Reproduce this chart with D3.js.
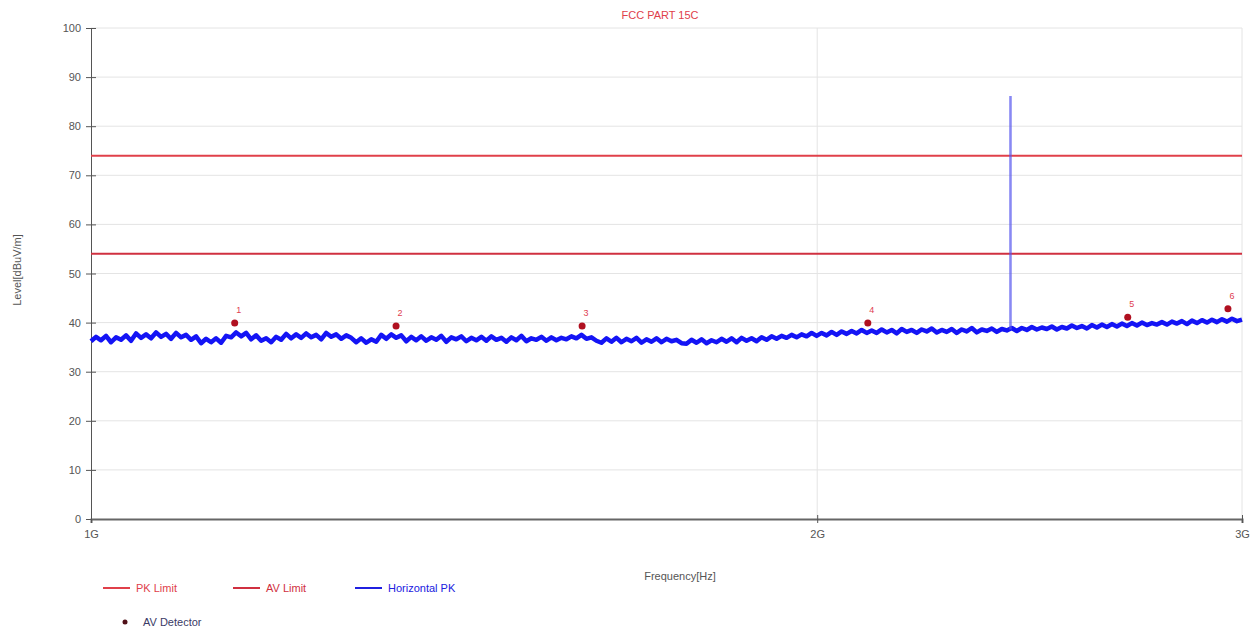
<!DOCTYPE html>
<html><head><meta charset="utf-8">
<script src="https://cdn.jsdelivr.net/npm/d3@7"></script>
<style>body{margin:0;background:#fff;}svg{display:block;font-family:"Liberation Sans",Arial,sans-serif;}</style>
</head><body><svg id="c" width="1259" height="636"></svg>
<script>
const title = "FCC PART 15C";
const yTicks = [0,10,20,30,40,50,60,70,80,90,100];
const xTicks = [1e9, 2e9, 3e9];
const xTickLabels = ["1G","2G","3G"];
const pkLimit = 74;
const avLimit = 54;
const traceStart = 1e9, traceStop = 3e9;
const traceLevels = [
36.2,37.1,36.4,37.3,36.0,37.0,36.5,37.4,36.3,
37.8,36.9,37.6,36.8,38.0,37.1,37.7,36.7,37.9,37.0,37.5,
36.5,37.2,
35.8,36.7,36.0,36.8,35.9,
37.3,
37.0,38.0,37.2,37.9,
36.6,37.4,36.3,
36.8,
36.0,37.1,36.5,
37.7,36.8,37.6,36.9,37.8,37.0,37.5,36.6,37.9,37.1,37.6,36.7,37.4,36.9,
36.0,36.8,35.9,36.6,36.1,
37.5,36.7,37.6,36.9,37.4,
36.2,37.1,36.4,37.2,36.3,37.0,36.5,37.3,36.1,37.0,36.6,37.2,36.2,36.9,36.4,37.1,36.3,37.2,36.5,36.9,36.1,37.0,36.4,37.3,36.2,36.8,36.5,37.1,36.3,37.0,36.4,36.9,
36.6,37.2,36.8,37.5,36.7,37.0,36.3,
35.9,36.8,36.1,36.9,36.0,36.7,36.2,36.9,35.9,36.6,36.1,36.8,36.0,36.7,36.2,36.5,35.8,
35.7,36.5,35.9,36.6,35.8,36.4,36.0,36.7,36.1,36.8,36.0,36.9,36.3,36.8,36.2,37.0,
36.5,37.2,36.7,37.3,36.9,37.5,37.0,37.6,37.2,37.9,37.3,
37.9,37.4,38.1,37.5,38.2,37.7,38.3,37.8,38.5,37.9,38.4,
37.9,38.6,38.0,38.5,37.8,38.7,38.1,38.5,37.9,38.6,38.2,38.8,38.0,38.5,38.1,38.7,37.9,38.6,38.2,38.9,38.0,38.6,38.3,38.8,38.1,38.7,38.4,
38.9,38.3,38.9,38.5,39.1,38.6,39.0,38.7,39.2,38.6,39.1,38.8,39.4,38.9,39.3,38.8,39.5,39.0,39.6,
39.1,39.7,39.2,39.8,39.3,39.9,39.4,40.0,39.5,39.9,39.6,40.1,39.6,40.2,39.8,40.3,39.7,40.4,39.9,40.5,40.0,40.6,40.1,40.7,40.2,40.8,40.3,40.6
];
const spikeFreq = 2.404e9;
const spikeLevel = 86;
const spikeBase = 38.6;
const markerIds = ["1","2","3","4","5","6"];
const markerFreqs = [1.147e9, 1.338e9, 1.598e9, 2.099e9, 2.690e9, 2.960e9];
const markerLevels = [39.9, 39.3, 39.3, 39.9, 41.1, 42.8];
const legendRow1 = ["PK Limit","AV Limit","Horizontal PK"];
const legendRow2 = ["AV Detector"];

const svg = d3.select("#c");
const L = 91, R = 1242, T = 28, B = 519;
const x = d3.scaleLog().domain([1e9, 3e9]).range([L, R]);
const y = d3.scaleLinear().domain([0, 100]).range([B, T]);

// grid
svg.append("g").selectAll("line").data(yTicks.filter(d=>d>0)).join("line")
  .attr("x1", L).attr("x2", R).attr("y1", d=>y(d)).attr("y2", d=>y(d))
  .attr("stroke", "#e4e4e4").attr("stroke-width", 1);
svg.append("g").selectAll("line").data(xTicks.slice(1)).join("line")
  .attr("x1", d=>x(d)).attr("x2", d=>x(d)).attr("y1", T).attr("y2", B)
  .attr("stroke", "#e4e4e4").attr("stroke-width", 1);

// axes
const yAxis = d3.axisLeft(y).tickValues(yTicks).tickSize(5).tickPadding(5);
const gy = svg.append("g").attr("transform", `translate(${L},0)`).call(yAxis);
gy.select(".domain").attr("stroke", "#555");
gy.selectAll(".tick line").attr("stroke", "#555").attr("x2", 5).attr("x1", -5);
gy.selectAll("text").attr("fill", "#555").attr("font-size", 11);

const xAxis = d3.axisBottom(x).tickValues(xTicks).tickFormat((d,i)=>xTickLabels[i]).tickSize(4).tickPadding(7);
const gx = svg.append("g").attr("transform", `translate(0,${B})`).call(xAxis);
gx.select(".domain").attr("stroke", "#666").attr("stroke-width", 2);
gx.selectAll(".tick line").attr("stroke", "#555").attr("y1", -4);
gx.selectAll("text").attr("fill", "#555").attr("font-size", 11);

// limits
svg.append("line").attr("x1", L).attr("x2", R).attr("y1", y(pkLimit)).attr("y2", y(pkLimit))
  .attr("stroke", "#e0404a").attr("stroke-width", 2);
svg.append("line").attr("x1", L).attr("x2", R).attr("y1", y(avLimit)).attr("y2", y(avLimit))
  .attr("stroke", "#d03040").attr("stroke-width", 2);

// trace
const n = traceLevels.length;
const lr = Math.log(traceStop/traceStart);
const traceData = traceLevels.map((v,i)=>[traceStart*Math.exp(lr*i/(n-1)), v]);
const line = d3.line().x(d=>x(d[0])).y(d=>y(d[1]));
svg.append("path").datum(traceData).attr("d", line)
  .attr("fill", "none").attr("stroke", "#1414f5").attr("stroke-width", 4.5).attr("stroke-linejoin","round");
svg.append("path").datum([[spikeFreq, spikeBase],[spikeFreq, spikeLevel],[spikeFreq*1.001, spikeLevel],[spikeFreq*1.001, spikeBase]]).attr("d", line)
  .attr("fill", "none").attr("stroke", "#5555ee").attr("stroke-opacity", 0.7).attr("stroke-width", 1.5);

// markers
const mg = svg.append("g");
mg.selectAll("circle").data(markerFreqs).join("circle")
  .attr("cx", d=>x(d)).attr("cy", (d,i)=>y(markerLevels[i])).attr("r", 3.5).attr("fill", "#b01020");
mg.selectAll("text").data(markerFreqs).join("text")
  .attr("x", d=>x(d)+4).attr("y", (d,i)=>y(markerLevels[i])-10)
  .attr("font-size", 9).attr("fill", "#e04050").attr("text-anchor","middle").text((d,i)=>markerIds[i]);

// title & labels
svg.append("text").attr("x", 660).attr("y", 19).attr("text-anchor","middle").attr("font-size", 11)
  .attr("fill", "#e0404a").text(title);
svg.append("text").attr("transform","translate(21,270) rotate(-90)").attr("text-anchor","middle")
  .attr("font-size", 11).attr("fill", "#555").text("Level[dBuV/m]");
svg.append("text").attr("x", 680).attr("y", 580).attr("text-anchor","middle")
  .attr("font-size", 11).attr("fill", "#555").text("Frequency[Hz]");

// legend
const legColors = ["#e0404a","#d03040","#2020e0"];
const legX = [103, 233, 355];
const lg = svg.append("g");
legendRow1.forEach((t,i)=>{
  lg.append("line").attr("x1", legX[i]).attr("x2", legX[i]+27).attr("y1", 588).attr("y2", 588)
    .attr("stroke", legColors[i]).attr("stroke-width", 2);
  lg.append("text").attr("x", legX[i]+33).attr("y", 592).attr("font-size", 11).attr("fill", legColors[i]).text(t);
});
lg.append("circle").attr("cx", 125).attr("cy", 622).attr("r", 2.5).attr("fill", "#501018");
lg.append("text").attr("x", 143).attr("y", 626).attr("font-size", 11).attr("fill", "#3a3a66").text(legendRow2[0]);
</script></body></html>
